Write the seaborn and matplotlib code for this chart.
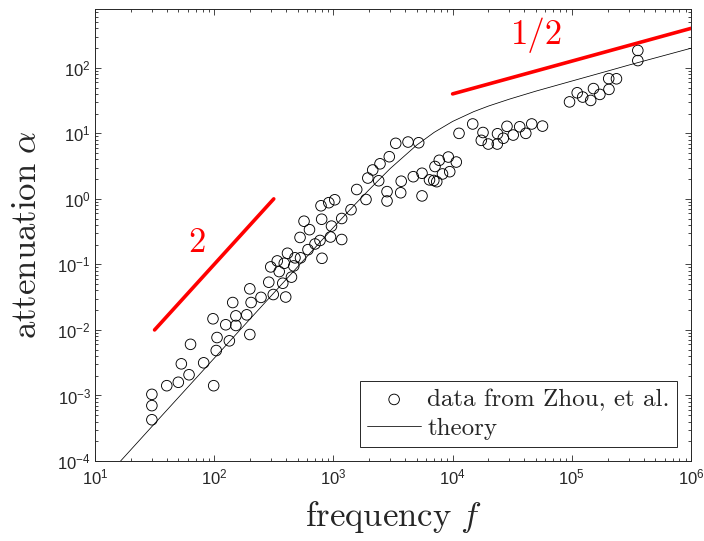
import numpy as np
import matplotlib
matplotlib.use("Agg")
import matplotlib.pyplot as plt
import seaborn as sns
from matplotlib.ticker import LogLocator, NullFormatter

# ---- data ----
data_f = [30, 30, 30, 40, 50, 53, 61.5, 63.3, 81.6, 99, 97.7, 105.6, 104, 125, 134,
          143, 152, 152, 187.5, 199, 199, 204, 247, 287, 313, 298, 338, 351, 376, 398,
          387, 412, 445, 465, 476, 525, 530, 567, 630, 612, 701, 772, 802, 787, 797,
          915, 1026, 964, 945, 1174, 1174, 1405, 1569, 1877, 1944, 2137, 2460, 2399,
          2944, 2818, 2818, 3333, 3706, 3669, 4226, 5195, 4680, 5538, 5538, 6400, 6956,
          7361, 7117, 7730, 8226, 9206, 9460, 10740, 11320, 14750, 17990, 17410, 19930,
          23710, 23810, 26630, 28590, 32240, 36540, 41110, 46100, 56780, 95700, 111000,
          123400, 144000, 152000, 172000, 205000, 204000, 237000, 358000, 358000]
data_a = [1.04e-3, 7.0e-4, 4.26e-4, 1.41e-3, 1.59e-3, 3.04e-3, 2.07e-3, 6.03e-3, 3.15e-3,
          1.41e-3, 1.48e-2, 7.66e-3, 4.85e-3, 1.20e-2, 6.82e-3, 2.62e-2, 1.64e-2, 1.17e-2,
          1.70e-2, 8.51e-3, 4.24e-2, 2.62e-2, 3.14e-2, 5.35e-2, 3.47e-2, 9.16e-2, 0.113,
          7.77e-2, 5.16e-2, 3.18e-2, 0.104, 0.148, 6.40e-2, 9.48e-2, 0.126, 0.258, 0.126,
          0.456, 0.339, 0.168, 0.205, 0.232, 0.124, 0.785, 0.489, 0.875, 0.969, 0.384,
          0.262, 0.240, 0.502, 0.684, 1.39, 0.979, 2.08, 2.76, 3.43, 1.89, 4.40, 1.29,
          0.929, 7.04, 1.86, 1.24, 7.37, 7.19, 2.18, 1.11, 2.46, 1.95, 1.91, 1.83, 3.12,
          3.88, 2.40, 4.35, 2.60, 3.65, 10.0, 13.9, 10.3, 7.82, 6.87, 6.87, 9.86, 8.42,
          12.8, 9.42, 12.6, 10.0, 13.9, 12.9, 30.2, 41.6, 35.8, 31.8, 48.2, 39.3, 46.9,
          68.4, 68.0, 184, 129]

theory_f = [16.4, 30, 100, 300, 1000, 1500, 2000, 3000, 5000, 7000, 10000, 15000,
            20000, 30000, 50000, 100000, 200000, 300000, 1000000]
theory_a = [1.0e-4, 3.35e-4, 3.7e-3, 3.3e-2, 0.366, 0.806, 1.39, 2.91, 6.62, 10.35,
            15.2, 21.4, 26.1, 33.3, 44.1, 62.8, 89.3, 110, 199]

slope2_f = [31.6, 316]
slope2_a = [0.01, 1.0]
slope_half_f = [1e4, 1e6]
slope_half_a = [40, 400]

legend_labels = ["data from Zhou, et al.", "theory"]
x_label = r"$\mathrm{frequency}\ f$"
y_label = r"$\mathrm{attenuation}\ \alpha$"

# ---- style ----
sns.set_theme(style="ticks")
plt.rcParams["font.family"] = ["Liberation Sans", "DejaVu Sans"]
plt.rcParams["mathtext.fontset"] = "cm"
dark = "#262626"

fig = plt.figure(figsize=(7.04, 5.41), dpi=100)
ax = fig.add_axes([95 / 704, 80 / 541, 596 / 704, 452 / 541])

sns.scatterplot(x=data_f, y=data_a, ax=ax, marker="o", s=58, facecolors="none",
                edgecolor="black", linewidth=0.65, label=legend_labels[0], zorder=3)
sns.lineplot(x=theory_f, y=theory_a, ax=ax, color="black", linewidth=0.55,
             sort=False, estimator=None, label=legend_labels[1], zorder=4)
sns.lineplot(x=slope2_f, y=slope2_a, ax=ax, color="#ff0000", linewidth=2.6,
             sort=False, estimator=None, legend=False, zorder=5)
sns.lineplot(x=slope_half_f, y=slope_half_a, ax=ax, color="#ff0000", linewidth=2.6,
             sort=False, estimator=None, legend=False, zorder=5)

ax.set_xscale("log")
ax.set_yscale("log")
ax.set_xlim(10, 1e6)
ax.set_ylim(1e-4, 790)

for axis in (ax.xaxis, ax.yaxis):
    axis.set_major_locator(LogLocator(base=10, numticks=20))
    axis.set_minor_locator(LogLocator(base=10, subs=np.arange(2, 10), numticks=20))
    axis.set_minor_formatter(NullFormatter())

ax.tick_params(which="both", direction="in", top=True, right=True, colors=dark,
               width=0.6)
ax.tick_params(which="major", length=4.5, labelsize=12)
ax.tick_params(axis="x", which="major", pad=5)
ax.tick_params(axis="y", which="major", pad=3)
ax.tick_params(which="minor", length=2.5)
for sp in ax.spines.values():
    sp.set_visible(True)
    sp.set_color(dark)
    sp.set_linewidth(0.7)

ax.set_xlabel(x_label, fontsize=25, color=dark, labelpad=8)
ax.set_ylabel(y_label, fontsize=25, color=dark, labelpad=10)

ax.text(71, 0.21, "2", color="#ff0000", fontsize=25, family="cmr10",
        ha="center", va="center")
ax.text(50800, 315, "1/2", color="#ff0000", fontsize=25, family="cmr10",
        ha="center", va="center")

leg = ax.legend(loc="lower right", prop={"family": "cmr10", "size": 18},
                frameon=True, fancybox=False, framealpha=1, edgecolor=dark,
                handlelength=2.15, handletextpad=0.25, borderpad=0.3,
                labelspacing=0.25, borderaxespad=0.55)
leg.get_frame().set_linewidth(0.7)

fig.savefig("out.png", dpi=100)
